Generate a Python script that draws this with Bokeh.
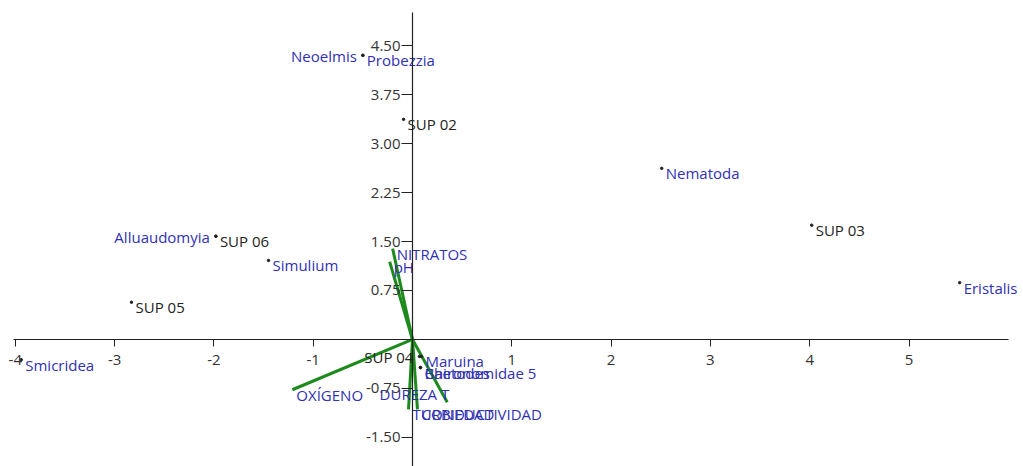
from bokeh.plotting import figure
from bokeh.models import Range1d, LinearAxis, FixedTicker, CustomJSTickFormatter
from bokeh.core.properties import value
from bokeh.embed import file_html
from bokeh.resources import INLINE

# ---- data ----
site_names = ["SUP 02", "SUP 03", "SUP 04", "SUP 05", "SUP 06"]
site_x = [-0.09, 4.02, 0.07, -2.83, -1.98]
site_y = [3.37, 1.75, -0.26, 0.57, 1.58]
site_side = ["right", "right", "left", "right", "right"]

species_names = ["Neoelmis", "Probezzia", "Nematoda", "Eristalis", "Alluaudomyia",
                 "Simulium", "Smicridea", "Maruina", "Baetodes", "Chironomidae 5"]
species_x = [-0.50, -0.50, 2.51, 5.51, -1.98, -1.45, -3.94, 0.09, 0.08, 0.08]
species_y = [4.35, 4.35, 2.62, 0.87, 1.58, 1.21, -0.31, -0.26, -0.43, -0.43]
species_side = ["left", "right", "right", "right", "left",
                "right", "right", "right", "right", "right"]

env_names = ["OXÍGENO", "NITRATOS", "pH", "DUREZA T", "CONDUCTIVIDAD", "TURBIEDAD"]
env_x = [-1.21, -0.20, -0.23, 0.35, 0.05, -0.04]
env_y = [-0.77, 1.39, 1.19, -0.96, -1.07, -1.07]
env_side = ["right", "right", "right", "below-left", "right", "right"]

x_ticks = [-4, -3, -2, -1, 1, 2, 3, 4, 5]
y_ticks = [-1.5, -0.75, 0.75, 1.5, 2.25, 3.0, 3.75, 4.5]

FONT = "Open Sans"
FSIZE = "15px"
BLUE = "#3030b4"
GREEN = "#1c8a1c"

p = figure(width=1023, height=466, output_backend="svg", toolbar_location=None,
           x_range=Range1d(-4.149, 6.153), y_range=Range1d(-1.945, 5.19),
           x_axis_location=None, y_axis_location=None, min_border=0)
p.outline_line_color = None
p.grid.visible = False
p.background_fill_color = "white"

xa = LinearAxis(fixed_location=0, ticker=FixedTicker(ticks=x_ticks),
                formatter=CustomJSTickFormatter(code="return tick.toFixed(0);"))
ya = LinearAxis(fixed_location=0, ticker=FixedTicker(ticks=y_ticks),
                formatter=CustomJSTickFormatter(code="return tick.toFixed(2);"))
for ax in (xa, ya):
    ax.axis_line_color = "#222222"
    ax.axis_line_width = 1.2
    ax.major_tick_line_color = "#222222"
    ax.major_tick_in = 0
    ax.minor_tick_line_color = None
    ax.major_label_text_font = FONT
    ax.major_label_text_font_size = FSIZE
    ax.major_label_text_color = "#333333"
xa.major_tick_out = 7
ya.major_tick_out = 11
xa.major_label_standoff = 9
ya.major_label_standoff = 1
xa.bounds = (-4.02, 6.0)
ya.bounds = (-1.95, 5.0)
p.add_layout(xa, "below")
p.add_layout(ya, "left")

# environmental vectors
for i in range(len(env_names)):
    p.segment(x0=[0], y0=[0], x1=[env_x[i]], y1=[env_y[i]], line_color=GREEN, line_width=3)


def label_props(side):
    if side == "left":
        return dict(text_align="right", text_baseline="middle", x_offset=-6, y_offset=1)
    if side == "below-left":
        return dict(text_align="right", text_baseline="bottom", x_offset=2, y_offset=2)
    return dict(text_align="left", text_baseline="top", x_offset=4, y_offset=-5)


def draw_labels(names, xs, ys, sides, color, dots=True):
    if dots:
        p.scatter(xs, ys, size=2.5, color="#222222", marker="circle")
    for n, x, y, s in zip(names, xs, ys, sides):
        p.text(x=[x], y=[y], text=[n], text_color=color, text_font=value(FONT),
               text_font_size=FSIZE, **label_props(s))


draw_labels(env_names, env_x, env_y, env_side, BLUE, dots=False)
draw_labels(site_names, site_x, site_y, site_side, "#222222")
draw_labels(species_names, species_x, species_y, species_side, BLUE)

open("out.html", "w").write(file_html(p, INLINE))
